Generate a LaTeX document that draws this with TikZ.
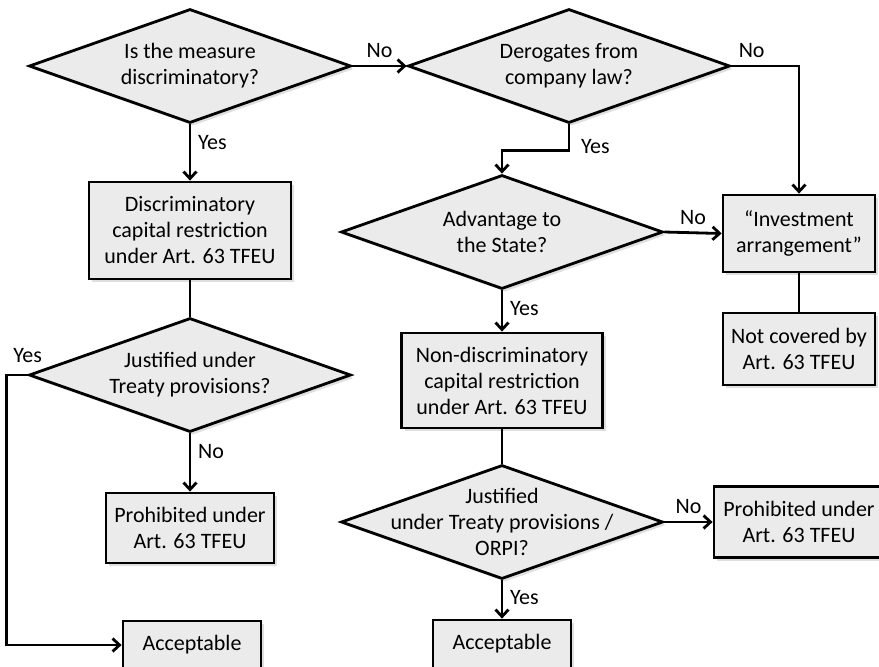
\documentclass[tikz,border=0pt]{standalone}
\usepackage{fontspec}
\setmainfont{Carlito}
\usepackage{xcolor}
\usetikzlibrary{shapes.geometric,arrows.meta,shadows}

\definecolor{boxgray}{RGB}{235,235,235}

\begin{document}
\begin{tikzpicture}[x=0.5pt, y=-0.5pt, line width=1.4pt,
        font=\fontsize{11}{13}\selectfont,
        softshadow/.style={drop shadow={opacity=0.25, shadow xshift=1.5pt, shadow yshift=-1.5pt}},
        question/.style={diamond, draw, fill=boxgray, inner sep=0pt,
            minimum width=161pt, minimum height=57pt, softshadow},
        outcome/.style={rectangle, draw, fill=boxgray, align=center, inner sep=0pt, softshadow},
        arr/.style={-{Straight Barb[length=3.5pt,width=6.5pt]}}]
        \useasboundingbox (0,0) rectangle (879,666);
        \clip (0,0) rectangle (879,666);

        % left column
        \node[question, label={[align=center]center:Is the measure\\discriminatory?}] (measure) at (190,66) {};
        \node[outcome, minimum width=101pt, minimum height=48.5pt] (discr) at (190,230.5) {Discriminatory\\capital restriction\\under Art. 63 TFEU};
        \node[question, label={[align=center]center:Justified under\\Treaty provisions?}] (justA) at (190,375) {};
        \node[outcome, minimum width=84pt, minimum height=35pt] (prohibA) at (190,528) {Prohibited under\\Art. 63 TFEU};
        \node[outcome, minimum width=69pt, minimum height=24pt] (acceptA) at (192,645) {Acceptable};

        % middle column
        \node[question, label={[align=center]center:Derogates from\\company law?}] (company) at (569,66) {};
        \node[question, label={[align=center]center:Advantage to\\the State?}] (advantage) at (502,232) {};
        \node[outcome, minimum width=100.5pt, minimum height=47.5pt] (nondiscr) at (502,380.5) {Non-discriminatory\\capital restriction\\under Art. 63 TFEU};
        \node[question, label={[align=center]center:Justified\\under Treaty provisions /\\ORPI?}] (justB) at (502,522) {};
        \node[outcome, minimum width=69pt, minimum height=24pt] (acceptB) at (502,644) {Acceptable};

        % right column
        \node[outcome, minimum width=76pt, minimum height=38.5pt] (invest) at (799,233.5) {“Investment\\arrangement”};
        \node[outcome, minimum width=76pt, minimum height=36pt] (notcov) at (799,349) {Not covered by\\Art. 63 TFEU};
        \node[outcome, minimum width=85pt, minimum height=35.5pt] (prohibB) at (799,522) {Prohibited under\\Art. 63 TFEU};

        \draw[arr] (measure.east) -- node[anchor=south] {No} (company.west);
        \draw[arr] (measure.south) -- node[anchor=west, pos=0.33] {Yes} (discr.north);
        \draw (discr.south) -- (justA.north);
        \draw[arr] (justA.west) node[anchor=south, yshift=2pt] {Yes} -- ++(-21,0) |- (acceptA.west);
        \draw[arr] (justA.south) -- node[anchor=west, pos=0.31] {No} (prohibA.north);

        \draw[arr] (company.east) -| node[anchor=south, pos=0.15] {No} (invest.north);
        \draw[arr] (company.south) -- node[anchor=west, pos=0.85, xshift=2pt] {Yes} ++(0,26) -| (advantage.north);
        \draw[arr] (advantage.east) -- node[anchor=south] {No} (invest.west);
        \draw[arr] (advantage.south) -- node[anchor=west, pos=0.43] {Yes} (nondiscr.north);
        \draw (invest.south) -- (notcov.north);
        \draw (nondiscr.south) -- (justB.north);
        \draw[arr] (justB.east) -- node[anchor=south] {No} (prohibB.west);
        \draw[arr] (justB.south) -- node[anchor=west, pos=0.45] {Yes} (acceptB.north);
    \end{tikzpicture}
\end{document}
